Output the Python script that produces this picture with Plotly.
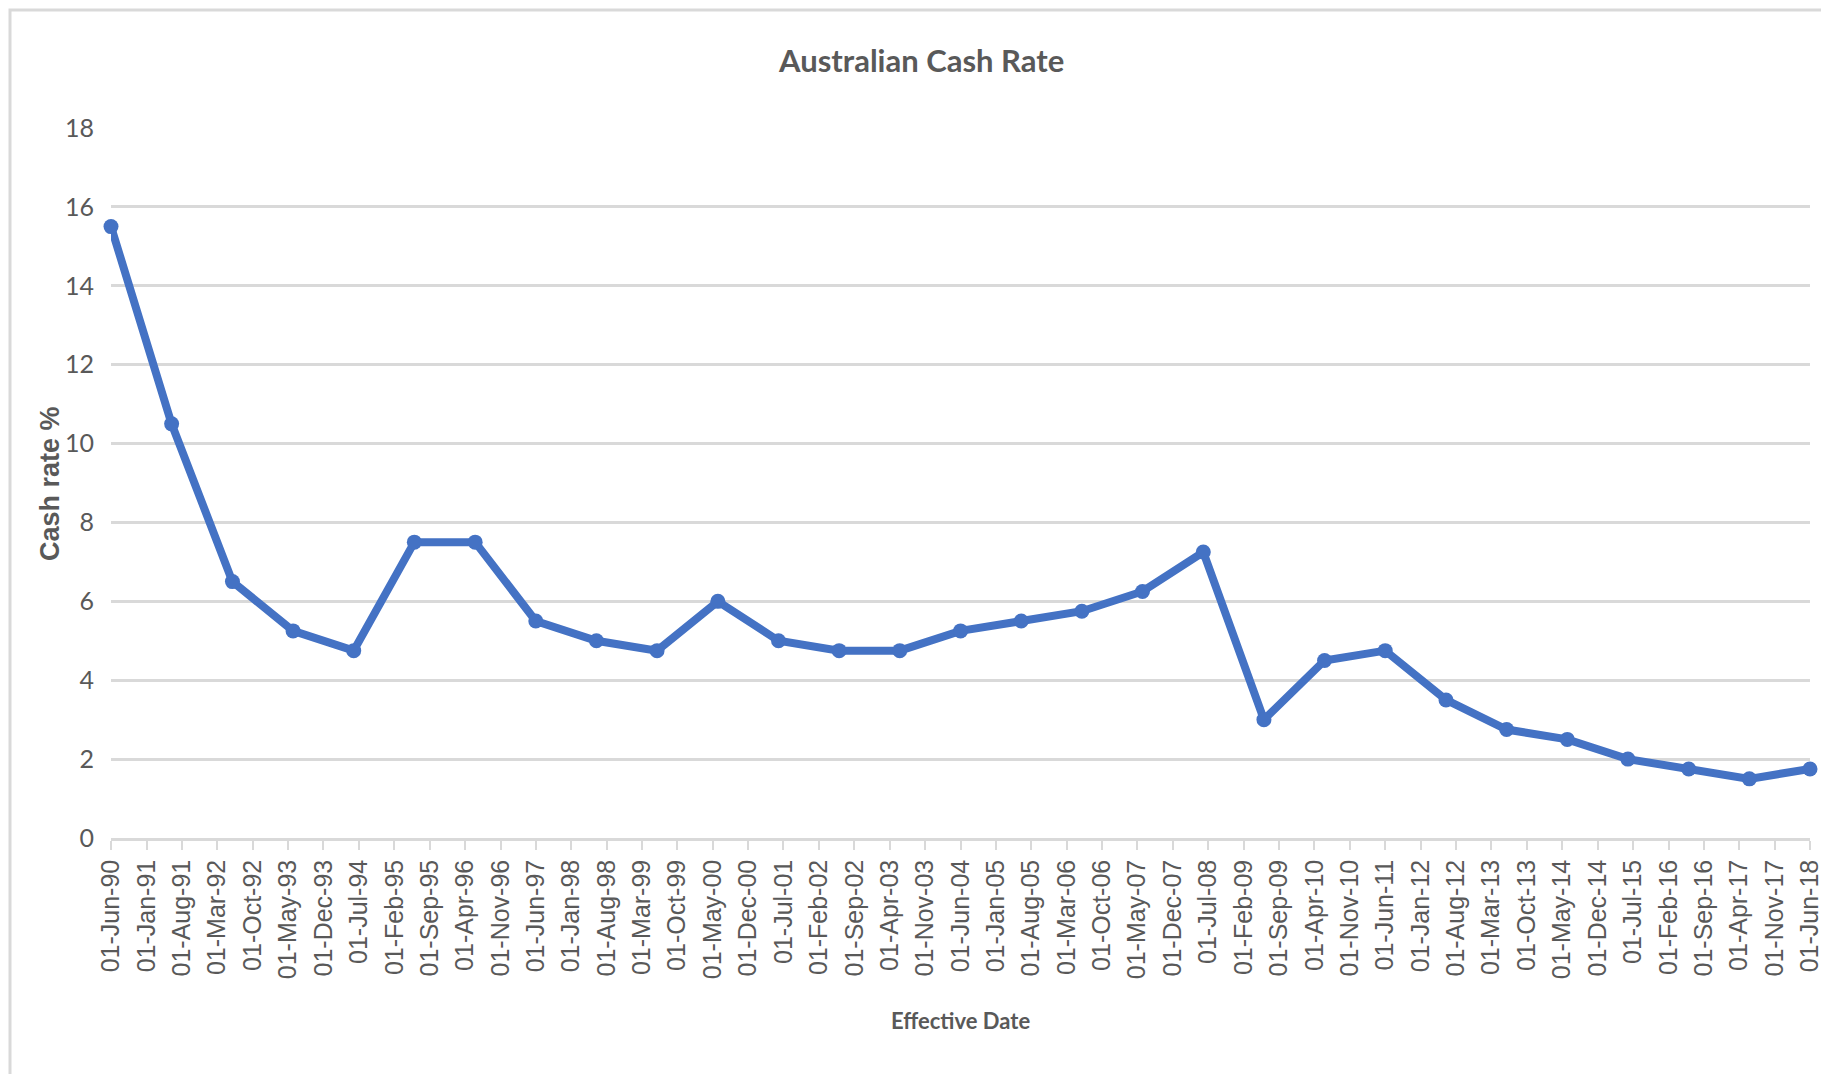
import plotly.graph_objects as go

# Data: annual observations (effective date 1 June each year)
dates = [f"{y}-06-01" for y in range(1990, 2019)]
cash_rate = [15.5, 10.5, 6.5, 5.25, 4.75, 7.5, 7.5, 5.5, 5.0, 4.75,
             6.0, 5.0, 4.75, 4.75, 5.25, 5.5, 5.75, 6.25, 7.25, 3.0,
             4.5, 4.75, 3.5, 2.75, 2.5, 2.0, 1.75, 1.5, 1.75]

title_text = "Australian Cash Rate"
x_title = "Effective Date"
y_title = "Cash rate %"
y_ticks = [0, 2, 4, 6, 8, 10, 12, 14, 16, 18]

# The page body adds an 8px margin; the figure is sized/offset to compensate.
OFF = 8
W, H = 1829 - OFF, 1074 - OFF
L, R, T, B = 111 - OFF, W - (1810 - OFF), 128 - OFF, H - (838 - OFF)
GRAY = "#595959"
GRID = "#D9D9D9"
LINE = "#4472C4"
HUMAN = "Lato, Open Sans, sans-serif"
ARIAL = "Liberation Sans, Arial, sans-serif"

fig = go.Figure()
fig.add_trace(go.Scatter(
    x=dates, y=cash_rate, mode="lines+markers",
    line=dict(color=LINE, width=8),
    marker=dict(color=LINE, size=15),
    cliponaxis=False, showlegend=False,
))

def px_x(p):  # page pixel -> paper x
    return (p - OFF - L) / (W - L - R)

def px_y(p):  # page pixel -> paper y
    return (H - B - (p - OFF)) / (H - T - B)

fig.update_layout(
    width=W, height=H,
    margin=dict(l=L, r=R, t=T, b=B, pad=0, autoexpand=False),
    paper_bgcolor="white", plot_bgcolor="white",
    showlegend=False,
    xaxis=dict(
        type="date",
        range=[dates[0], dates[-1]],
        tick0=dates[0], dtick="M7",
        tickformat="%d-%b-%y",
        tickangle=-90,
        ticks="outside", ticklen=9, tickwidth=2, tickcolor=GRID,
        tickfont=dict(family=ARIAL, size=25, color=GRAY),
        ticklabeloverflow="allow",
        automargin=False,
        showline=True, linecolor=GRID, linewidth=2.5,
        showgrid=False, zeroline=False,
    ),
    yaxis=dict(
        range=[0, 18],
        tickvals=y_ticks,
        ticks="", ticklabelstandoff=16,
        tickfont=dict(family=HUMAN, size=25, color=GRAY),
        automargin=False,
        showgrid=True, gridcolor=GRID, gridwidth=2.5,
        zeroline=False, showline=False,
    ),
    shapes=[dict(
        type="rect", xref="paper", yref="paper",
        x0=px_x(10), x1=px_x(1860), y0=px_y(10), y1=px_y(1100),
        line=dict(color=GRID, width=3), fillcolor="rgba(0,0,0,0)",
        layer="below",
    )],
    annotations=[
        dict(text=title_text, xref="paper", yref="paper",
             x=px_x(921), y=px_y(60), xanchor="center", yanchor="middle",
             showarrow=False,
             font=dict(family=HUMAN, size=31, color=GRAY, weight="bold")),
        dict(text=x_title, xref="paper", yref="paper",
             x=px_x(961), y=px_y(1021), xanchor="center", yanchor="middle",
             showarrow=False,
             font=dict(family=HUMAN, size=22, color=GRAY, weight="bold")),
        dict(text=y_title, xref="paper", yref="paper",
             x=px_x(50), y=px_y(484), xanchor="center", yanchor="middle",
             textangle=-90, showarrow=False,
             font=dict(family=ARIAL, size=27, color=GRAY, weight="bold")),
    ],
)

fig.write_html("out.html")
